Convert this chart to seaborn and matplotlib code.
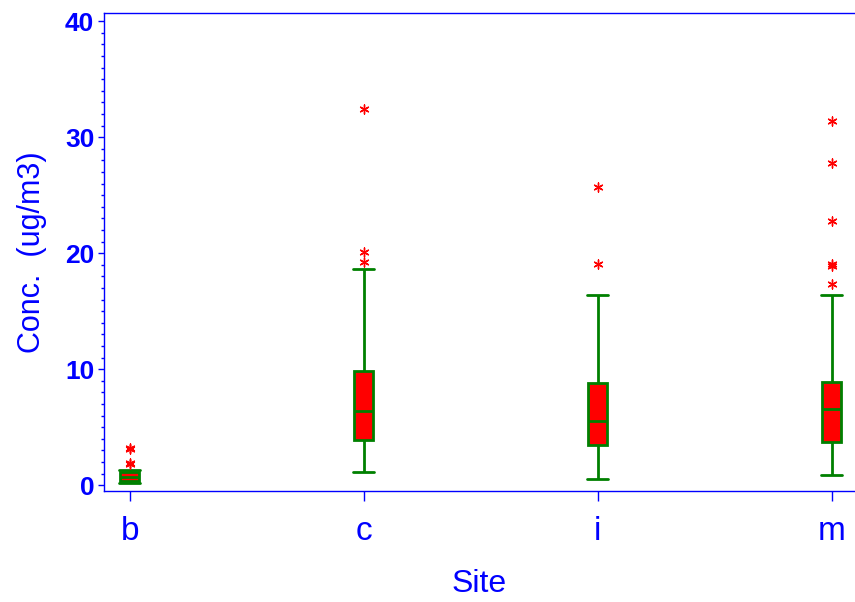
import matplotlib
matplotlib.use("Agg")
import matplotlib.pyplot as plt
import pandas as pd
import seaborn as sns
from matplotlib.ticker import MultipleLocator

# ── Data ─────────────────────────────────────────────────────────────────────
sites    = ["b", "c", "i", "m"]
whis_lo  = [0.2, 1.1, 0.5, 0.9]
q1       = [0.4, 3.9, 3.5, 3.7]
median   = [0.7, 6.4, 5.5, 6.6]
q3       = [1.1, 9.8, 8.8, 8.9]
whis_hi  = [1.3, 18.6, 16.4, 16.4]

out_b = [1.8, 1.9, 3.1, 3.2]
out_c = [19.2, 20.1, 32.4]
out_i = [19.1, 25.7]
out_m = [17.3, 18.9, 19.1, 22.8, 27.8, 31.4]

BLUE  = "#0000ff"
GREEN = "#008000"
RED   = "#ff0000"

# five summary points per site -> linear quantiles give back q1/median/q3
rows = []
for i, s in enumerate(sites):
    for v in (whis_lo[i], q1[i], median[i], q3[i], whis_hi[i]):
        rows.append({"site": s, "conc": v})
box_df = pd.DataFrame(rows)

out_df = pd.DataFrame({
    "site": ["b"] * len(out_b) + ["c"] * len(out_c) + ["i"] * len(out_i) + ["m"] * len(out_m),
    "conc": out_b + out_c + out_i + out_m,
})

sns.set_style("white")
plt.rcParams["font.family"] = ["Liberation Sans", "DejaVu Sans"]

fig = plt.figure(figsize=(8.55, 6.02), dpi=100)
ax = fig.add_axes([0.1216, 0.1844, 0.8784, 0.794])

sns.boxplot(data=box_df, x="site", y="conc", order=sites, whis=(0, 100),
            width=0.08, showfliers=False, ax=ax, capwidths=0.092,
            boxprops=dict(facecolor=RED, edgecolor=GREEN, linewidth=2),
            medianprops=dict(color=GREEN, linewidth=2),
            whiskerprops=dict(color=GREEN, linewidth=2),
            capprops=dict(color=GREEN, linewidth=2))

sns.stripplot(data=out_df, x="site", y="conc", order=sites, jitter=False,
              marker=(6, 2, 0), color=RED, edgecolor=RED, size=6.5,
              linewidth=1, ax=ax)

ax.set_xlim(-0.11, 3.1)
ax.set_ylim(-0.5, 40.7)
ax.yaxis.set_major_locator(MultipleLocator(10))
ax.yaxis.set_minor_locator(MultipleLocator(1))

for side in ["left", "bottom", "top"]:
    ax.spines[side].set_color(BLUE)
    ax.spines[side].set_linewidth(1)
ax.spines["right"].set_visible(False)

ax.tick_params(axis="y", which="major", length=4, width=1, color=BLUE,
               labelcolor=BLUE, labelsize=19, pad=3, left=True)
ax.tick_params(axis="y", which="minor", length=2.5, width=1, color=BLUE, left=True)
ax.tick_params(axis="x", length=7, width=1, color=BLUE, labelcolor=BLUE,
               labelsize=24, pad=11, bottom=True)
for lab in ax.get_yticklabels():
    lab.set_fontweight("bold")

ax.set_xlabel("Site", color=BLUE, fontsize=23, labelpad=16)
ax.set_ylabel("Conc.  (ug/m3)", color=BLUE, fontsize=22, labelpad=13)

fig.savefig("out.png", dpi=100)
